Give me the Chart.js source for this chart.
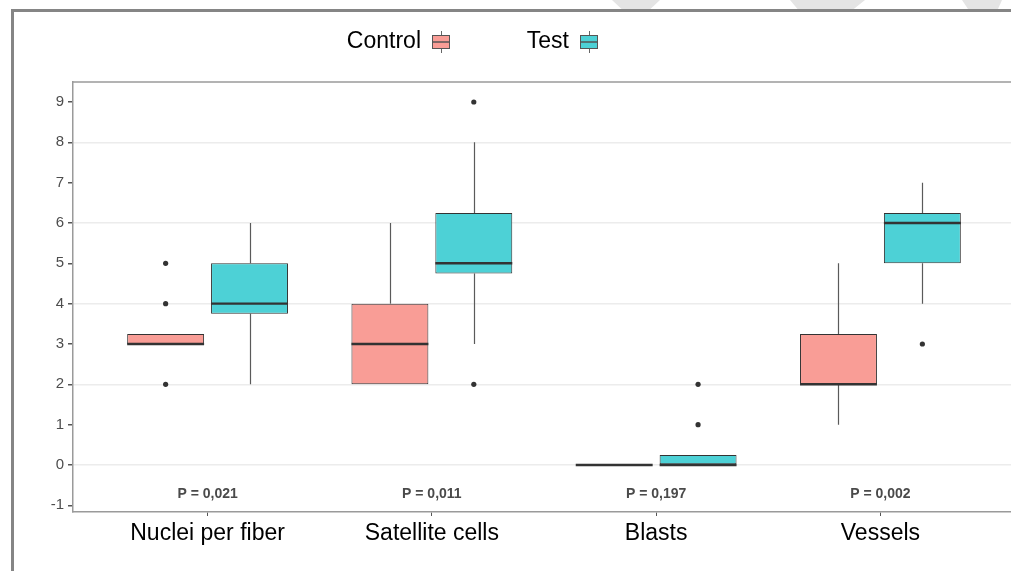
<!DOCTYPE html>
<html>
<head>
<meta charset="utf-8">
<script src="https://cdn.jsdelivr.net/npm/chart.js@4"></script>
<style>
    html, body { margin: 0; padding: 0; background: #fff; overflow: hidden; width: 1011px; height: 571px; }
    #frame { position: absolute; left: 11px; top: 9px; width: 1100px; height: 700px;
             border-left: 3px solid #858585; border-top: 3px solid #858585; }
    .patch { position: absolute; top: 0; height: 9px; background: #e4e4e4; }
    #wrap { position: absolute; left: 0; top: 0; width: 1030px; height: 571px; }
</style>
</head>
<body>
<div class="patch" style="left:612px;width:48px;clip-path:polygon(0 0,100% 0,80% 100%,20% 100%)"></div>
<div class="patch" style="left:790px;width:75px;clip-path:polygon(0 0,100% 0,85% 100%,10% 100%)"></div>
<div class="patch" style="left:962px;width:40px;clip-path:polygon(0 0,100% 0,90% 100%,15% 100%)"></div>
<div id="frame"></div>
<div id="wrap"><canvas id="boxChart" width="1030" height="571"></canvas></div>
<script>
const categories = ['Nuclei per fiber', 'Satellite cells', 'Blasts', 'Vessels'];
const pLabels = ['P = 0,021', 'P = 0,011', 'P = 0,197', 'P = 0,002'];

const controlQ1 = [3, 2, 0, 2];
const controlMedian = [3, 3, 0, 2];
const controlQ3 = [3.25, 4, 0, 3.25];
const controlLow = [3, 2, 0, 1];
const controlHigh = [3.25, 6, 0, 5];
const controlOutliers = [[2, 4, 5], [], [], []];

const testQ1 = [3.75, 4.75, 0, 5];
const testMedian = [4, 5, 0, 6];
const testQ3 = [5, 6.25, 0.25, 6.25];
const testLow = [2, 3, 0, 4];
const testHigh = [6, 8, 0.25, 7];
const testOutliers = [[], [2, 9], [1, 2], [3]];

const yTicks = [-1, 0, 1, 2, 3, 4, 5, 6, 7, 8, 9];

const controlColor = '#f99d96';
const testColor = '#4dd1d6';

function boxData(q1, q3) {
    return categories.map((c, i) => ({ x: i + 1, y: [q1[i], q3[i]] }));
}

// whiskers, medians, outliers and the p values
const boxParts = {
    id: 'boxParts',
    beforeDatasetsDraw(chart) {
        const ctx = chart.ctx;
        const yScale = chart.scales.y;
        ctx.save();
        ctx.strokeStyle = '#5a5a5a';
        ctx.lineWidth = 1.2;
        chart.data.datasets.forEach((ds, d) => {
            chart.getDatasetMeta(d).data.forEach((bar, i) => {
                const x = Math.round(bar.x) + 0.5;
                ctx.beginPath();
                if (ds.stats.high[i] > ds.stats.q3[i]) {
                    ctx.moveTo(x, yScale.getPixelForValue(ds.stats.q3[i]));
                    ctx.lineTo(x, yScale.getPixelForValue(ds.stats.high[i]));
                }
                if (ds.stats.low[i] < ds.stats.q1[i]) {
                    ctx.moveTo(x, yScale.getPixelForValue(ds.stats.q1[i]));
                    ctx.lineTo(x, yScale.getPixelForValue(ds.stats.low[i]));
                }
                ctx.stroke();
            });
        });
        ctx.restore();
    },
    afterDatasetsDraw(chart) {
        const ctx = chart.ctx;
        const xScale = chart.scales.x;
        const yScale = chart.scales.y;
        const area = chart.chartArea;
        ctx.save();
        chart.data.datasets.forEach((ds, d) => {
            chart.getDatasetMeta(d).data.forEach((bar, i) => {
                const half = bar.width / 2;
                const ym = yScale.getPixelForValue(ds.stats.median[i]);
                ctx.strokeStyle = '#333';
                ctx.lineWidth = 2.4;
                ctx.beginPath();
                ctx.moveTo(bar.x - half, ym);
                ctx.lineTo(bar.x + half, ym);
                ctx.stroke();
                ctx.fillStyle = '#333';
                ds.stats.outliers[i].forEach(v => {
                    ctx.beginPath();
                    ctx.arc(bar.x, yScale.getPixelForValue(v), 2.6, 0, Math.PI * 2);
                    ctx.fill();
                });
            });
        });
        ctx.fillStyle = '#4a4a4a';
        ctx.font = 'bold 14px "Liberation Sans", Arial, sans-serif';
        ctx.textAlign = 'center';
        ctx.textBaseline = 'middle';
        pLabels.forEach((p, i) => {
            ctx.fillText(p, xScale.getPixelForValue(i + 1), yScale.getPixelForValue(-0.72));
        });
        // panel top and right edges
        ctx.strokeStyle = '#9a9a9a';
        ctx.lineWidth = 1.5;
        ctx.beginPath();
        ctx.moveTo(area.left, area.top);
        ctx.lineTo(area.right, area.top);
        ctx.lineTo(area.right, area.bottom);
        ctx.stroke();
        ctx.restore();
    },
    afterDraw(chart) {
        const ctx = chart.ctx;
        ctx.save();
        ctx.font = '23px "Liberation Sans", Arial, sans-serif';
        ctx.textBaseline = 'middle';
        ctx.textAlign = 'right';
        const items = [
            { text: 'Control', color: controlColor, right: 421, key: 432 },
            { text: 'Test', color: testColor, right: 569, key: 580 }
        ];
        items.forEach(it => {
            ctx.fillStyle = '#000';
            ctx.fillText(it.text, it.right, 42);
            const cx = it.key + 9;
            ctx.strokeStyle = '#666';
            ctx.lineWidth = 1;
            ctx.beginPath();
            ctx.moveTo(cx + 0.5, 31);
            ctx.lineTo(cx + 0.5, 53);
            ctx.stroke();
            ctx.fillStyle = it.color;
            ctx.fillRect(it.key, 35, 18, 14);
            ctx.strokeStyle = '#555';
            ctx.strokeRect(it.key + 0.5, 35.5, 17, 13);
            ctx.lineWidth = 1.5;
            ctx.beginPath();
            ctx.moveTo(it.key, 42);
            ctx.lineTo(it.key + 18, 42);
            ctx.stroke();
        });
        ctx.restore();
    }
};

const ctx = document.getElementById('boxChart').getContext('2d');

new Chart(ctx, {
    type: 'bar',
    data: {
        datasets: [{
            label: 'Control',
            data: boxData(controlQ1, controlQ3),
            stats: { q1: controlQ1, q3: controlQ3, median: controlMedian, low: controlLow, high: controlHigh, outliers: controlOutliers },
            backgroundColor: controlColor,
            borderColor: '#333',
            borderWidth: 1,
            borderSkipped: false
        }, {
            label: 'Test',
            data: boxData(testQ1, testQ3),
            stats: { q1: testQ1, q3: testQ3, median: testMedian, low: testLow, high: testHigh, outliers: testOutliers },
            backgroundColor: testColor,
            borderColor: '#333',
            borderWidth: 1,
            borderSkipped: false
        }]
    },
    options: {
        responsive: false,
        animation: false,
        categoryPercentage: 0.748,
        barPercentage: 0.917,
        layout: { padding: { top: 82, right: 15, left: 0, bottom: 0 } },
        plugins: {
            legend: { display: false },
            tooltip: { enabled: false }
        },
        scales: {
            x: {
                type: 'linear',
                offset: false,
                min: 0.4,
                max: 4.6,
                afterBuildTicks: scale => { scale.ticks = categories.map((c, i) => ({ value: i + 1 })); },
                afterFit: scale => { scale.height = 59; },
                ticks: {
                    callback: value => categories[value - 1],
                    color: '#000',
                    font: { family: '"Liberation Sans", Arial, sans-serif', size: 23 },
                    padding: 4,
                    autoSkip: false,
                    maxRotation: 0
                },
                grid: { offset: false, drawOnChartArea: false, tickLength: 4, tickColor: '#555', tickWidth: 1 },
                border: { color: '#9a9a9a', width: 1.5 }
            },
            y: {
                min: -1.166,
                max: 9.496,
                afterBuildTicks: scale => { scale.ticks = yTicks.map(v => ({ value: v })); },
                afterFit: scale => { scale.width = 73; },
                ticks: {
                    color: '#4d4d4d',
                    font: { family: '"Liberation Sans", Arial, sans-serif', size: 15 },
                    padding: 4
                },
                grid: {
                    color: c => (c.tick && c.tick.value % 2 === 0) ? '#ececec' : 'rgba(0,0,0,0)',
                    lineWidth: 1.5,
                    tickColor: '#555',
                    tickLength: 5
                },
                border: { color: '#9a9a9a', width: 1.5 }
            }
        }
    },
    plugins: [boxParts]
});
</script>
</body>
</html>
